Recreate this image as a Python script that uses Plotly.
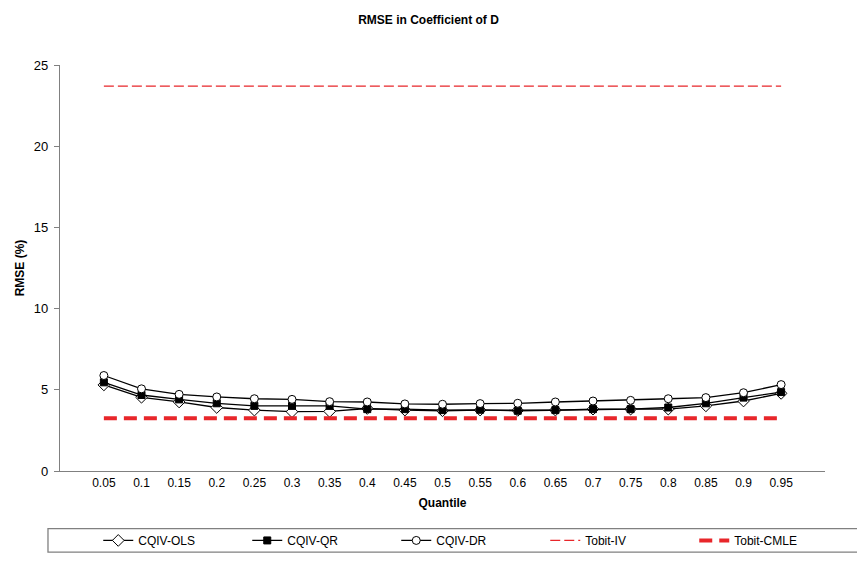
import plotly.graph_objects as go

quantiles = ["0.05", "0.1", "0.15", "0.2", "0.25", "0.3", "0.35", "0.4", "0.45", "0.5",
             "0.55", "0.6", "0.65", "0.7", "0.75", "0.8", "0.85", "0.9", "0.95"]

cqiv_ols = [5.30, 4.54, 4.25, 3.91, 3.75, 3.65, 3.67, 3.85, 3.75, 3.71,
            3.75, 3.73, 3.75, 3.81, 3.81, 3.81, 4.01, 4.31, 4.78]
cqiv_qr = [5.46, 4.68, 4.41, 4.17, 4.01, 4.01, 4.01, 3.81, 3.81, 3.75,
           3.77, 3.71, 3.75, 3.81, 3.81, 3.91, 4.17, 4.52, 4.86]
cqiv_dr = [5.88, 5.06, 4.72, 4.56, 4.45, 4.41, 4.27, 4.25, 4.13, 4.11,
           4.15, 4.17, 4.25, 4.31, 4.35, 4.45, 4.52, 4.82, 5.32]
tobit_iv = [23.7] * 19
tobit_cmle = [3.25] * 19

red = "#E8262A"
font = "Liberation Sans, Arial, sans-serif"

fig = go.Figure()
fig.add_trace(go.Scatter(
    x=quantiles, y=cqiv_ols, name="CQIV-OLS", mode="lines+markers",
    line=dict(color="black", width=1.3),
    marker=dict(symbol="diamond", size=9, color="white", line=dict(color="black", width=1))))
fig.add_trace(go.Scatter(
    x=quantiles, y=cqiv_qr, name="CQIV-QR", mode="lines+markers",
    line=dict(color="black", width=1.3),
    marker=dict(symbol="square", size=7, color="black", line=dict(color="black", width=1))))
fig.add_trace(go.Scatter(
    x=quantiles, y=cqiv_dr, name="CQIV-DR", mode="lines+markers",
    line=dict(color="black", width=1.3),
    marker=dict(symbol="circle", size=8, color="white", line=dict(color="black", width=1))))
fig.add_trace(go.Scatter(
    x=quantiles, y=tobit_iv, name="Tobit-IV", mode="lines",
    line=dict(color=red, width=1.2, dash="10px,4px")))
fig.add_trace(go.Scatter(
    x=quantiles, y=tobit_cmle, name="Tobit-CMLE", mode="lines",
    line=dict(color=red, width=4, dash="13px,7px")))

# legend frame like the Excel original (runs off the right edge)
fig.add_shape(type="rect", xref="paper", yref="paper",
              x0=-0.0157, x1=1.06, y0=-0.2, y1=-0.142,
              line=dict(color="#808080", width=1.3), fillcolor="white", layer="below")

fig.update_layout(
    width=857, height=567,
    margin=dict(l=60, r=32, t=65, b=87),
    plot_bgcolor="white", paper_bgcolor="white",
    font=dict(family=font, size=12, color="black"),
    title=dict(text="<b>RMSE in Coefficient of D</b>", x=0.5, xref="container",
               xanchor="center", y=0.965, yanchor="middle", font=dict(size=12)),
    xaxis=dict(type="category", showline=True, linecolor="#808080", linewidth=1.3,
               showgrid=False, ticks="", tickfont=dict(size=12),
               title=dict(text="<b>Quantile</b>", font=dict(size=12), standoff=10)),
    yaxis=dict(range=[0, 25], dtick=5, showline=True, linecolor="#808080", linewidth=1.3,
               showgrid=False, zeroline=False, ticks="outside", ticklen=5, tickcolor="#808080",
               tickfont=dict(size=13), ticklabelstandoff=3,
               title=dict(text="<b>RMSE (%)</b>", font=dict(size=12), standoff=6)),
    legend=dict(orientation="h", x=0.05, xanchor="left", y=-0.171, yanchor="middle",
                bgcolor="rgba(0,0,0,0)", font=dict(size=12),
                entrywidth=104, itemwidth=30, traceorder="normal"),
)

fig.write_html("out.html", config={"displayModeBar": False},
               post_script="document.body.style.margin='0';")
